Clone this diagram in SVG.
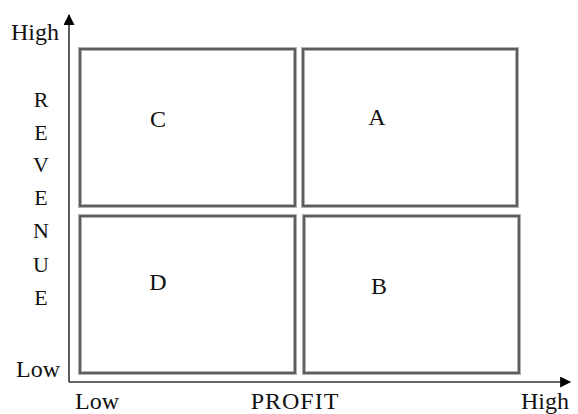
<svg xmlns="http://www.w3.org/2000/svg" width="578" height="414" viewBox="0 0 578 414">
<defs>
<style>
.t{font-family:"Liberation Serif","Times New Roman",serif;font-size:24px;fill:#111}
.m{text-anchor:middle}
.halo{fill:none;stroke:#b0b0b0;stroke-width:4}
.box{fill:none;stroke:#4a4a4a;stroke-width:1.6}
.ax{stroke:#333;stroke-width:1.6;fill:none}
</style>
<marker id="ah" viewBox="0 0 10 10" refX="9" refY="5" markerWidth="12" markerHeight="11" markerUnits="userSpaceOnUse" orient="auto">
<path d="M0,0 L10,5 L0,10 z" fill="#000"/>
</marker>
</defs>
<rect width="578" height="414" fill="#fff"/>
<g id="connectors">
<line class="ax" x1="69" y1="382" x2="69" y2="15" marker-end="url(#ah)"/>
<line class="ax" x1="69" y1="382" x2="570" y2="382" marker-end="url(#ah)"/>
</g>
<g id="C"><rect class="halo" x="80" y="49" width="215" height="157"/><rect class="box" x="80" y="49" width="215" height="157"/><text class="t m" x="158" y="127">C</text></g>
<g id="A"><rect class="halo" x="303" y="49" width="214" height="157"/><rect class="box" x="303" y="49" width="214" height="157"/><text class="t m" x="377" y="125">A</text></g>
<g id="D"><rect class="halo" x="80" y="216" width="215" height="157"/><rect class="box" x="80" y="216" width="215" height="157"/><text class="t m" x="158" y="290">D</text></g>
<g id="B"><rect class="halo" x="304" y="216" width="215" height="157"/><rect class="box" x="304" y="216" width="215" height="157"/><text class="t m" x="379" y="294">B</text></g>
<g id="labels">
<text class="t" x="11" y="40">High</text>
<text class="t" x="16" y="377">Low</text>
<text class="t" x="75" y="409">Low</text>
<text class="t m" x="295" y="409" letter-spacing="1">PROFIT</text>
<text class="t" x="521" y="409">High</text>
<g class="t m" style="font-size:22px">
<text x="41" y="107">R</text>
<text x="41" y="140">E</text>
<text x="41" y="172">V</text>
<text x="41" y="205">E</text>
<text x="41" y="238">N</text>
<text x="41" y="272">U</text>
<text x="41" y="305">E</text>
</g>
</g>
</svg>
